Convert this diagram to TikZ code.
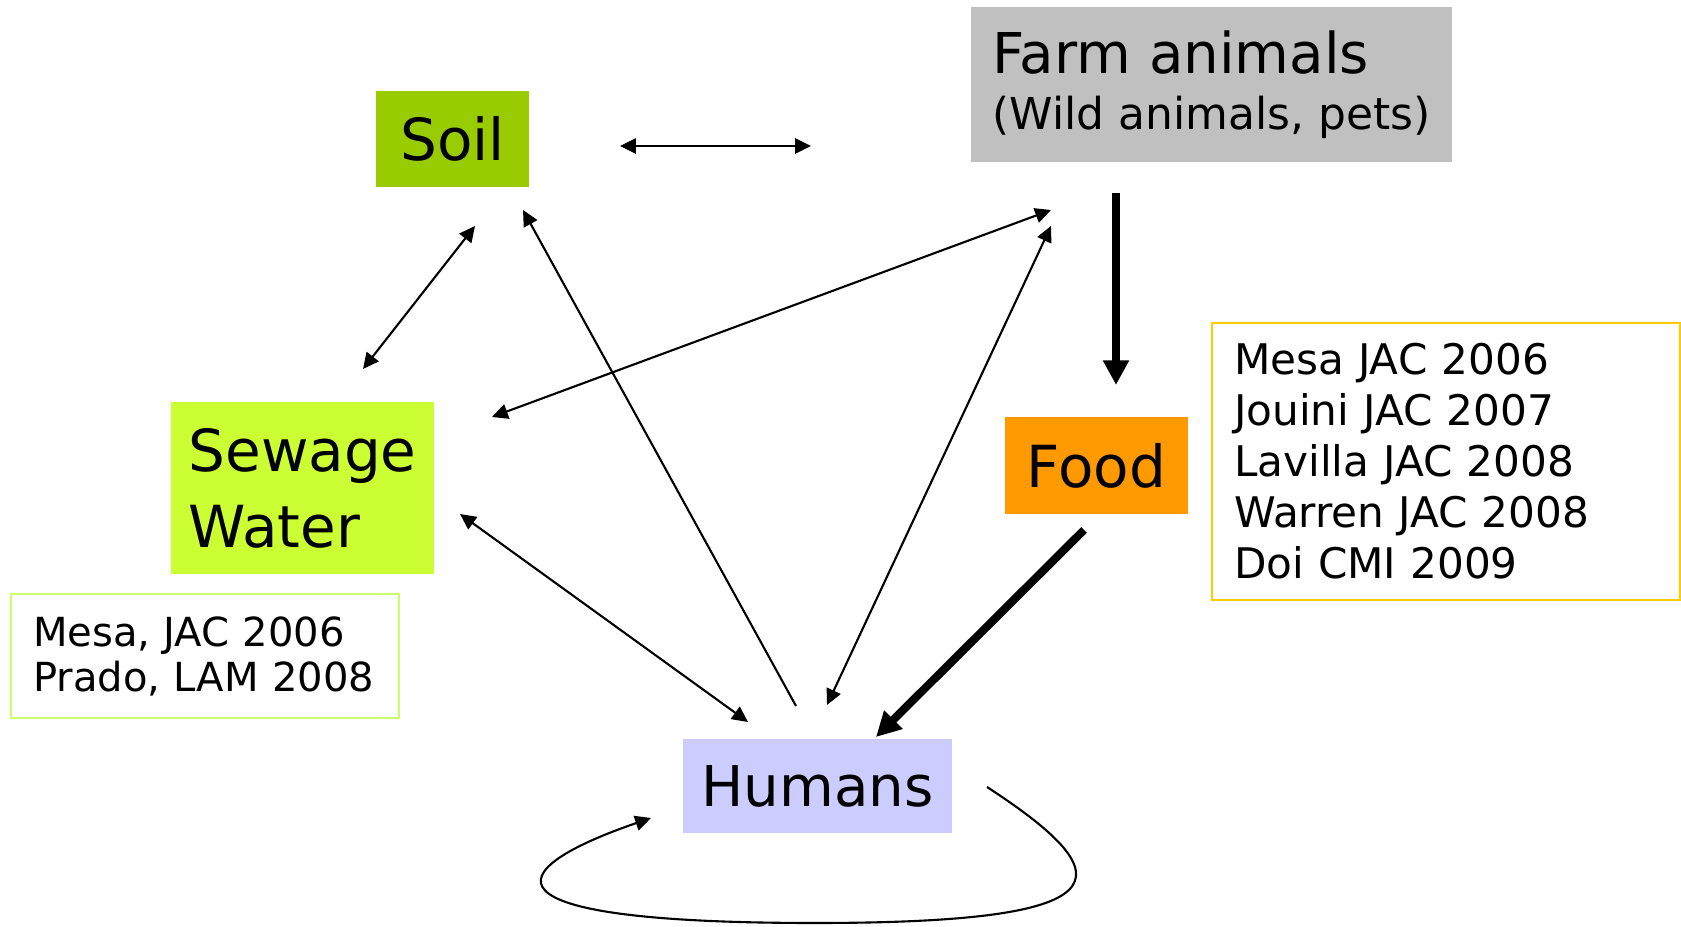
\documentclass[tikz,border=0pt]{standalone}
\usepackage{fontspec}
\setmainfont{DejaVu Sans}
\usetikzlibrary{arrows.meta}

\definecolor{soilgreen}{HTML}{99CC00}
\definecolor{farmgrey}{HTML}{C0C0C0}
\definecolor{sewagegreen}{HTML}{CCFF33}
\definecolor{foodorange}{HTML}{FF9900}
\definecolor{humanblue}{HTML}{CCCCFF}
\definecolor{limeline}{HTML}{CCFF66}
\definecolor{goldline}{HTML}{FFCC00}

\tikzstyle{box}=[%
	inner sep=0, align=left, font=\fontsize{16.5}{21.6}\selectfont
]
\tikzstyle{refbox}=[%
	draw, line width=0.6pt, anchor=north west, inner ysep=0, align=left,
	font=\fontsize{12}{12.8}\selectfont
]
\tikzstyle{link}=[line width=0.6pt]
\tikzstyle{bigarrow}=[line width=2.3pt, -{Triangle[length=7pt,width=7pt]}]

\begin{document}
\begin{tikzpicture}[x=0.1mm, y=-0.1mm, >={Triangle[length=4.5pt,width=4.3pt]}]
	\useasboundingbox (0,0) rectangle (1681,927);

	\node[box, fill=soilgreen, minimum width=15.3mm, minimum height=9.6mm] (soil) at (452.5,139) {Soil};
	\node[box, fill=farmgrey, minimum width=48.1mm, minimum height=15.5mm,
		font=\fontsize{16}{16}\selectfont] (farm) at (1211.5,84.5)
		{Farm animals\\{\fontsize{12.5}{16}\selectfont(Wild animals, pets)}};
	\node[box, fill=sewagegreen, minimum width=26.3mm, minimum height=17.2mm] (sewage) at (302.5,488) {Sewage\\Water};
	\node[box, fill=foodorange, minimum width=18.3mm, minimum height=9.7mm] (food) at (1096.5,465.5) {Food};
	\node[box, fill=humanblue, minimum width=26.9mm, minimum height=9.4mm,
		font=\fontsize{16}{21.6}\selectfont] (humans) at (817.5,786) {Humans};

	\node[refbox, draw=limeline, inner xsep=2.2mm, text width=34.4mm, minimum height=12.4mm,
		font=\fontsize{11.4}{12.8}\selectfont] (refsewage) at (10,593)
		{Mesa, JAC 2006\\Prado, LAM 2008};
	\node[refbox, draw=goldline, inner xsep=2.2mm, text width=42.4mm, minimum height=27.7mm,
		font=\fontsize{12}{14.5}\selectfont] (reffood) at (1211,322)
		{Mesa JAC 2006\\Jouini JAC 2007\\Lavilla JAC 2008\\Warren JAC 2008\\Doi CMI 2009};

	% arrow ends
	\coordinate (soil-e) at (620,146);
	\coordinate (farm-w) at (811,146);
	\coordinate (soil-s) at (475,226);
	\coordinate (sewage-n) at (363,369);
	\coordinate (soil-se) at (523,210);
	\coordinate (farm-a) at (1051,210);
	\coordinate (farm-b) at (1051,226);
	\coordinate (sewage-ne) at (492,417);
	\coordinate (sewage-e) at (460,514);
	\coordinate (humans-a) at (748,722);
	\coordinate (humans-b) at (796,706);
	\coordinate (humans-c) at (827,705);
	\coordinate (farm-s) at (1116,193);
	\coordinate (food-n) at (1116,385);
	\coordinate (food-sw) at (1084,530);
	\coordinate (humans-ne) at (876,737);
	\coordinate (loop-a) at (987,787);
	\coordinate (loop-b) at (651,818);

	\draw[link, <->] (soil-e) -- (farm-w);
	\draw[link, <->] (soil-s) -- (sewage-n);
	\draw[link, ->] (humans-b) -- (soil-se);
	\draw[link, <->] (farm-a) -- (sewage-ne);
	\draw[link, <->] (farm-b) -- (humans-c);
	\draw[link, <->] (sewage-e) -- (humans-a);
	\draw[bigarrow] (farm-s) -- (food-n);
	\draw[bigarrow] (food-sw) -- (humans-ne);

	\draw[link, ->] (loop-a) .. controls (1130,880) and (1120,923) .. (815,923)
		.. controls (470,923) and (500,870) .. (loop-b);
\end{tikzpicture}
\end{document}
